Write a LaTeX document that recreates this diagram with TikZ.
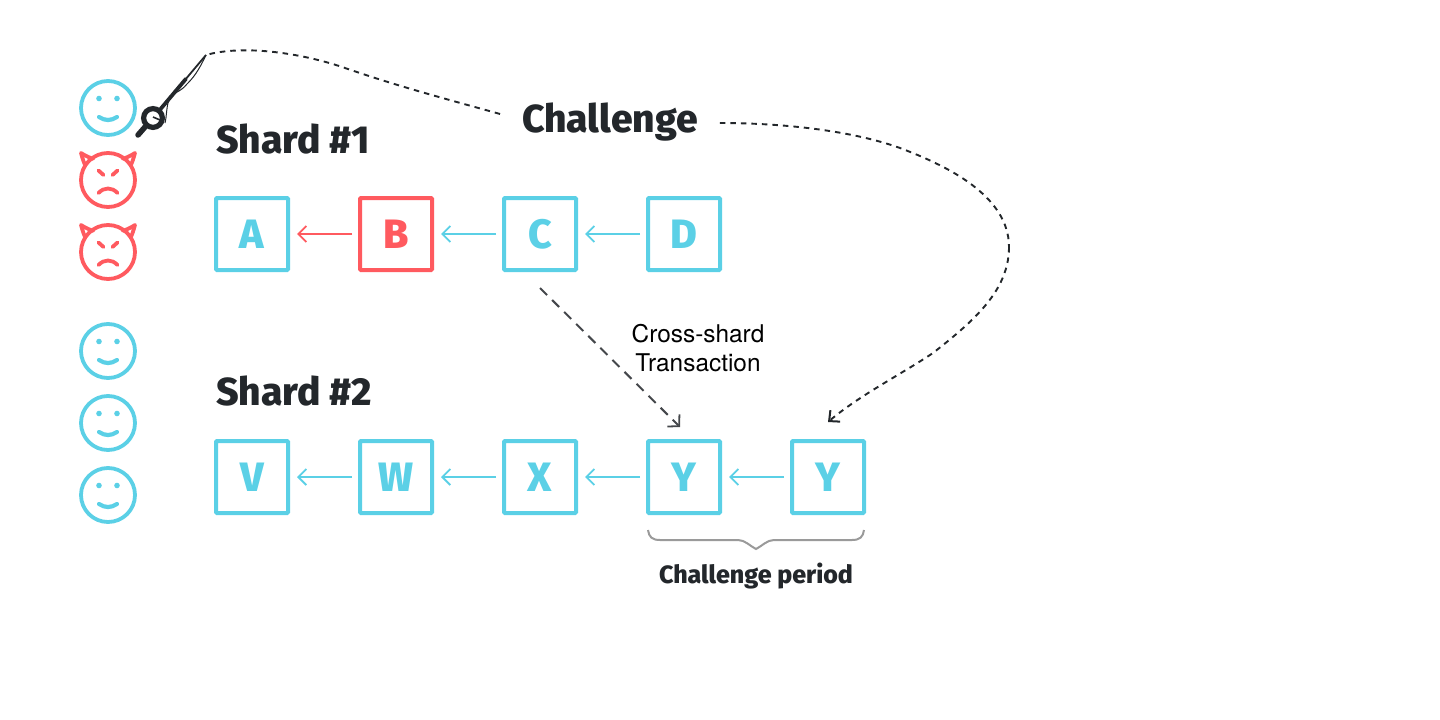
\documentclass[tikz,border=0pt]{standalone}
\usepackage{fontspec}
\setmainfont{TeX Gyre Heros}
\newfontfamily\heavyf{Fira Sans ExtraBold}
\usetikzlibrary{arrows.meta,calc}
\definecolor{cy}{HTML}{5BD0E6}
\definecolor{rd}{HTML}{FF5A5F}
\definecolor{ink}{HTML}{23272B}
\definecolor{brc}{HTML}{9A9A9A}
\tikzset{
 blockbox/.style={draw=cy,line width=4pt,minimum size=72pt,inner sep=0pt,rounded corners=1pt,font=\heavyf\fontsize{41}{41}\selectfont,text=cy},
 redbox/.style={blockbox,draw=rd,text=rd},
 link/.style={cy,line width=1.8pt,-{Straight Barb[length=8pt,width=16pt,line width=1.8pt]},shorten >=7pt,shorten <=6pt},
 redlink/.style={link,rd},
 heading/.style={inner sep=0pt,text=ink,font=\heavyf\fontsize{39}{42}\selectfont},
 smiley/.pic={
  \draw[cy,line width=3.8pt] (0,0) circle (27pt);
  \fill[cy] (-9,-9.5) circle (2.8pt) (9,-9.5) circle (2.8pt);
  \draw[cy,line width=4.2pt,line cap=round] (-9,9) .. controls (-3,13) and (3,13) .. (9,9);
 },
 devil/.pic={
  \draw[rd,line width=3.8pt,line join=round,line cap=round] (-23,-15) .. controls (-25,-20) .. (-27,-27) .. controls (-22,-24) .. (-15,-21);
  \draw[rd,line width=3.8pt,line join=round,line cap=round] (23,-15) .. controls (25,-20) .. (27,-27) .. controls (22,-24) .. (15,-21);
  \draw[rd,line width=3.8pt] (0,0) circle (27pt);
  \draw[rd,line width=3.8pt,line cap=round] (-9.5,-9.5) -- (-4.5,-5) (9.5,-9.5) -- (4.5,-5);
  \draw[rd,line width=3.8pt,line cap=round] (-9.5,13) .. controls (-4,7) and (4,7) .. (9.5,13);
 },
 chal/.style={ink,line width=1.9pt,dash pattern=on 5.5pt off 5pt}
}
\begin{document}
\begin{tikzpicture}[x=1pt,y=-1pt]
\useasboundingbox (0,0) rectangle (1440,720);
% people
\pic at (108,108) {smiley};
\pic at (108,180) {devil};
\pic at (108,252) {devil};
\pic at (108,351) {smiley};
\pic at (108,423) {smiley};
\pic at (108,495) {smiley};
% headings
\node[heading,anchor=west] (s1) at (216,139) {Shard \#1};
\node[heading,anchor=west] (s2) at (216,391) {Shard \#2};
\node[heading] (ch) at (610,122) {Challenge};
% blocks
\node[blockbox] (A) at (252,234) {A};
\node[redbox] (B) at (396,234) {B};
\node[blockbox] (C) at (540,234) {C};
\node[blockbox] (D) at (684,234) {D};
\node[blockbox] (V) at (252,477) {V};
\node[blockbox] (W) at (396,477) {W};
\node[blockbox] (X) at (540,477) {X};
\node[blockbox] (Y1) at (684,477) {Y};
\node[blockbox] (Y2) at (828,477) {Y};
\draw[redlink] (B) -- (A);
\draw[link] (C) -- (B);
\draw[link] (D) -- (C);
\draw[link] (W) -- (V);
\draw[link] (X) -- (W);
\draw[link] (Y1) -- (X);
\draw[link] (Y2) -- (Y1);
% cross shard
\node[align=center,inner sep=0pt,text=black,font=\fontsize{24.4}{29}\selectfont] (cs) at (698,348) {Cross-shard\\Transaction};
\coordinate (csa) at ($(C.south)+(0,16)$);
\coordinate (csb) at ($(Y1.north)+(-4,-12)$);
\draw[ink!85,line width=2pt,dash pattern=on 10pt off 7pt,-{Straight Barb[length=8pt,width=17pt,line width=1.8pt]}] (csa) -- (csb);
% rod
\coordinate (tip) at (206,55);
\coordinate (hub) at (153,118);
\draw[ink,line width=3.8pt,line cap=round] (hub) -- ($(hub)!0.62!(tip)$);
\draw[ink,line width=1.8pt] (hub) -- (tip);
\draw[ink,line width=1pt] (tip) .. controls (198,72) and (193,78) .. (187,84) .. controls (180,93) and (172,92) .. (169,100) .. controls (166,108) and (167,115) .. (165,123);
\draw[ink,line width=5.2pt,fill=white] (hub) circle (9.4pt);
\draw[ink,line width=5.5pt,line cap=round] (145,127) -- (138,135);
\draw[ink,line width=1.6pt] (153,117) -- (160,120);
% challenge lines
\draw[chal] ($(ch.west)+(-22,-8)$) .. controls (450,100) and (400,87) .. (345,68) .. controls (305,54) and (245,44) .. (tip);
\coordinate (rb) at (1009,247);
\draw[chal] ($(ch.east)+(22,1)$) .. controls (780,123) and (850,130) .. (900,148) .. controls (945,165) and (1009,195) .. (rb);
\draw[chal,-{Straight Barb[length=8pt,width=15pt,line width=2pt]}] (rb) .. controls (1009,290) and (975,320) .. (933,353) .. controls (900,375) and (860,395) .. ($(Y2.north)+(0,-17)$);
% brace
\draw[brc,line width=2pt] (648,530) .. controls (649,537) and (652,540) .. (660,540) -- (738,540) .. controls (745,540) and (750,546) .. (756,549) .. controls (762,546) and (767,540) .. (774,540) -- (852,540) .. controls (860,540) and (863,537) .. (864,530);
\node[inner sep=0pt,text=ink,font=\heavyf\fontsize{25}{28}\selectfont] (cp) at (756,576) {Challenge period};
\end{tikzpicture}
\end{document}
